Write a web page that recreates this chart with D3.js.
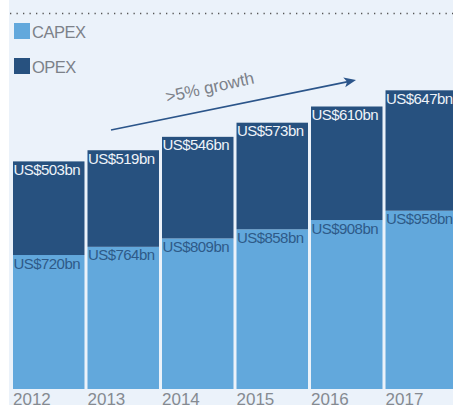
<!DOCTYPE html>
<html>
<head>
<meta charset="utf-8">
<script src="https://cdn.jsdelivr.net/npm/d3@7"></script>
<style>
  body { margin: 0; background: #fff; }
  svg text { font-family: "Liberation Sans", Arial, sans-serif; }
</style>
</head>
<body>
<svg id="chart" width="453" height="405"></svg>
<script>
let years = ['2012', '2013', '2014', '2015', '2016', '2017']
let capex = [720, 764, 809, 858, 908, 958]
let opex = [503, 519, 546, 573, 610, 647]
let series_names = ['CAPEX', 'OPEX']
let growth_label = '>5% growth'

let colors = {
    'CAPEX': '#62a8dc',
    'OPEX': '#27517f'
}

let x0 = 13
let step = 74
let y_base = 389
let px_per_bn = 0.1861

var svg = d3.select('#chart')

svg.append('rect')
    .attr('x', 9).attr('y', 0)
    .attr('width', 444).attr('height', 405)
    .attr('fill', '#ebf2fa')

svg.append('line')
    .attr('x1', 10).attr('x2', 453)
    .attr('y1', 13.5).attr('y2', 13.5)
    .attr('stroke', '#555')
    .attr('stroke-width', 1.3)
    .attr('stroke-dasharray', '1.3,5.2')

let x = d3.scaleBand()
    .domain(years)
    .range([x0, x0 + step * years.length])
    .paddingInner(3 / 74)
    .paddingOuter(0)
    .align(0)

let y = d3.scaleLinear()
    .domain([0, 1000])
    .range([y_base, y_base - 1000 * px_per_bn])

let rows = years.map((yr, i) => ({year: yr, CAPEX: capex[i], OPEX: opex[i]}))
let stacked = d3.stack().keys(series_names)(rows)

// bars
stacked.forEach(layer => {
    svg.append('g')
        .selectAll('rect')
        .data(layer)
        .enter()
        .append('rect')
        .attr('x', d => x(d.data.year))
        .attr('y', d => y(d[1]))
        .attr('width', x.bandwidth())
        .attr('height', d => y(d[0]) - y(d[1]))
        .attr('fill', colors[layer.key])
})

// value labels
stacked.forEach(layer => {
    svg.append('g')
        .selectAll('text')
        .data(layer)
        .enter()
        .append('text')
        .attr('x', d => x(d.data.year) + 0.5)
        .attr('y', d => y(d[1]) + 13.5)
        .attr('font-size', 15)
        .attr('letter-spacing', -0.55)
        .attr('fill', layer.key === 'OPEX' ? '#eef3f9' : '#2e5a88')
        .text(d => `US$${d.data[layer.key]}bn`)
})

// year labels (cut by the bottom edge, as in the original)
svg.append('g')
    .selectAll('text')
    .data(years)
    .enter()
    .append('text')
    .attr('x', d => x(d))
    .attr('y', 405)
    .attr('font-size', 17)
    .attr('fill', '#858a91')
    .text(d => d)

// legend
let legend = svg.append('g')
    .attr('transform', 'translate(14, 23)')

series_names.forEach((name, i) => {
    legend.append('rect')
        .attr('x', 0).attr('y', i * 35)
        .attr('width', 16).attr('height', 16)
        .attr('fill', colors[name])
    legend.append('text')
        .attr('x', 18).attr('y', i * 35 + 15)
        .attr('font-size', 16.5)
        .attr('letter-spacing', -0.5)
        .attr('fill', '#7c8189')
        .text(name)
})

// growth arrow
let ax1 = 111, ay1 = 130, ax2 = 356, ay2 = 80
let ang = Math.atan2(ay2 - ay1, ax2 - ax1)
svg.append('line')
    .attr('x1', ax1).attr('y1', ay1)
    .attr('x2', ax2 - 8 * Math.cos(ang)).attr('y2', ay2 - 8 * Math.sin(ang))
    .attr('stroke', '#2b558a')
    .attr('stroke-width', 1.6)

svg.append('path')
    .attr('d', 'M0,0 L-12,-5 L-9,0 L-12,5 Z')
    .attr('transform', `translate(${ax2},${ay2}) rotate(${ang * 180 / Math.PI})`)
    .attr('fill', '#2b558a')

svg.append('text')
    .attr('transform', `translate(211, 93) rotate(-12.5)`)
    .attr('text-anchor', 'middle')
    .attr('font-size', 17)
    .attr('fill', '#7c8189')
    .text(growth_label)
</script>
</body>
</html>
